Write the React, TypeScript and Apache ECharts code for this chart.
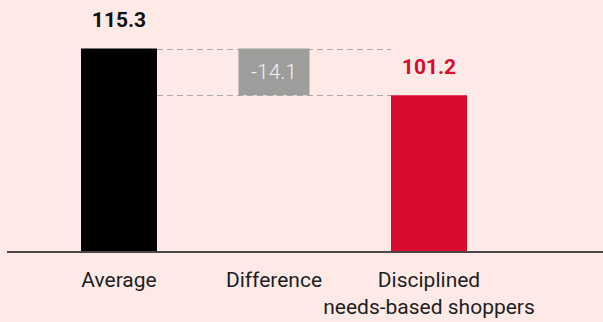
import React, { useEffect, useRef } from 'react';
import * as echarts from 'echarts';

const categories = ['Average', 'Difference', 'Disciplined\nneeds-based shoppers'];
const barValues = [115.3, null, 101.2];
const diffBase = [null, 101.2, null];
const diffValues = [null, 14.1, null];
const diffLabels = ['', '-14.1', ''];
const yMin = 54.3;
const yMax = 115.3;

const BG = '#fdeae7';
const RED = '#d80b2e';
const GRAY = '#9d9d9c';
const FONT = 'Roboto, "DejaVu Sans", sans-serif';

export default function App() {
  const ref = useRef<HTMLDivElement>(null);
  useEffect(() => {
    if (!ref.current) return;
    const chart = echarts.init(ref.current, undefined, { renderer: 'svg' });
    const barColors = ['#000000', GRAY, RED];
    chart.setOption({
      animation: false,
      backgroundColor: BG,
      grid: { left: 41.5, right: 96.5, top: 48.5, bottom: 71 },
      xAxis: [
        {
          type: 'category',
          data: categories,
          axisLine: { show: false },
          axisTick: { show: false },
          axisLabel: {
            interval: 0,
            color: '#1e1e1e',
            fontSize: 21,
            fontFamily: FONT,
            lineHeight: 27,
            margin: 15,
          },
        },
        { type: 'category', data: categories, show: false },
      ],
      yAxis: { type: 'value', min: yMin, max: yMax, show: false },
      series: [
        {
          type: 'bar',
          xAxisIndex: 0,
          barWidth: 76,
          data: barValues.map((v, i) =>
            v == null
              ? '-'
              : {
                  value: v,
                  itemStyle: { color: barColors[i] },
                  label: { color: i === 0 ? '#111111' : RED },
                }
          ),
          label: {
            show: true,
            position: 'top',
            distance: 18,
            fontSize: 21,
            fontWeight: 'bold',
            fontFamily: FONT,
          },
        },
        {
          type: 'bar',
          xAxisIndex: 1,
          stack: 'diff',
          barWidth: 71,
          data: diffBase.map((v) => (v == null ? '-' : v)),
          itemStyle: { color: 'rgba(0,0,0,0)' },
          silent: true,
        },
        {
          type: 'bar',
          xAxisIndex: 1,
          stack: 'diff',
          barWidth: 71,
          data: diffValues.map((v) => (v == null ? '-' : v)),
          itemStyle: { color: GRAY },
          label: {
            show: true,
            position: 'inside',
            formatter: (p: any) => diffLabels[p.dataIndex],
            color: '#f2f2f2',
            fontSize: 21,
            fontWeight: 300,
            fontFamily: FONT,
          },
        },
      ],
    });

    const cx0 = chart.convertToPixel({ xAxisIndex: 0 }, 0) as number;
    const cx2 = chart.convertToPixel({ xAxisIndex: 0 }, 2) as number;
    const yTop = chart.convertToPixel({ yAxisIndex: 0 }, barValues[0] as number) as number;
    const yLow = chart.convertToPixel({ yAxisIndex: 0 }, barValues[2] as number) as number;
    const yBase = chart.convertToPixel({ yAxisIndex: 0 }, yMin) as number;
    const xa = cx0 + 38;
    const xb = cx2 - 38;
    const dash = { stroke: '#a8a8a8', lineWidth: 1, lineDash: [6, 4] };
    chart.setOption({
      graphic: [
        { type: 'line', z: 0, shape: { x1: xa, y1: Math.round(yTop) + 0.5, x2: xb, y2: Math.round(yTop) + 0.5 }, style: dash },
        { type: 'line', z: 0, shape: { x1: xa, y1: Math.round(yLow) + 0.5, x2: xb, y2: Math.round(yLow) + 0.5 }, style: dash },
        { type: 'line', z: 10, shape: { x1: 7, y1: yBase + 1, x2: 603, y2: yBase + 1 }, style: { stroke: '#111111', lineWidth: 1.3 } },
      ],
    });
    return () => chart.dispose();
  }, []);
  return (
    <div
      ref={ref}
      style={{ position: 'fixed', left: 0, top: 0, width: 603, height: 322 }}
    />
  );
}
